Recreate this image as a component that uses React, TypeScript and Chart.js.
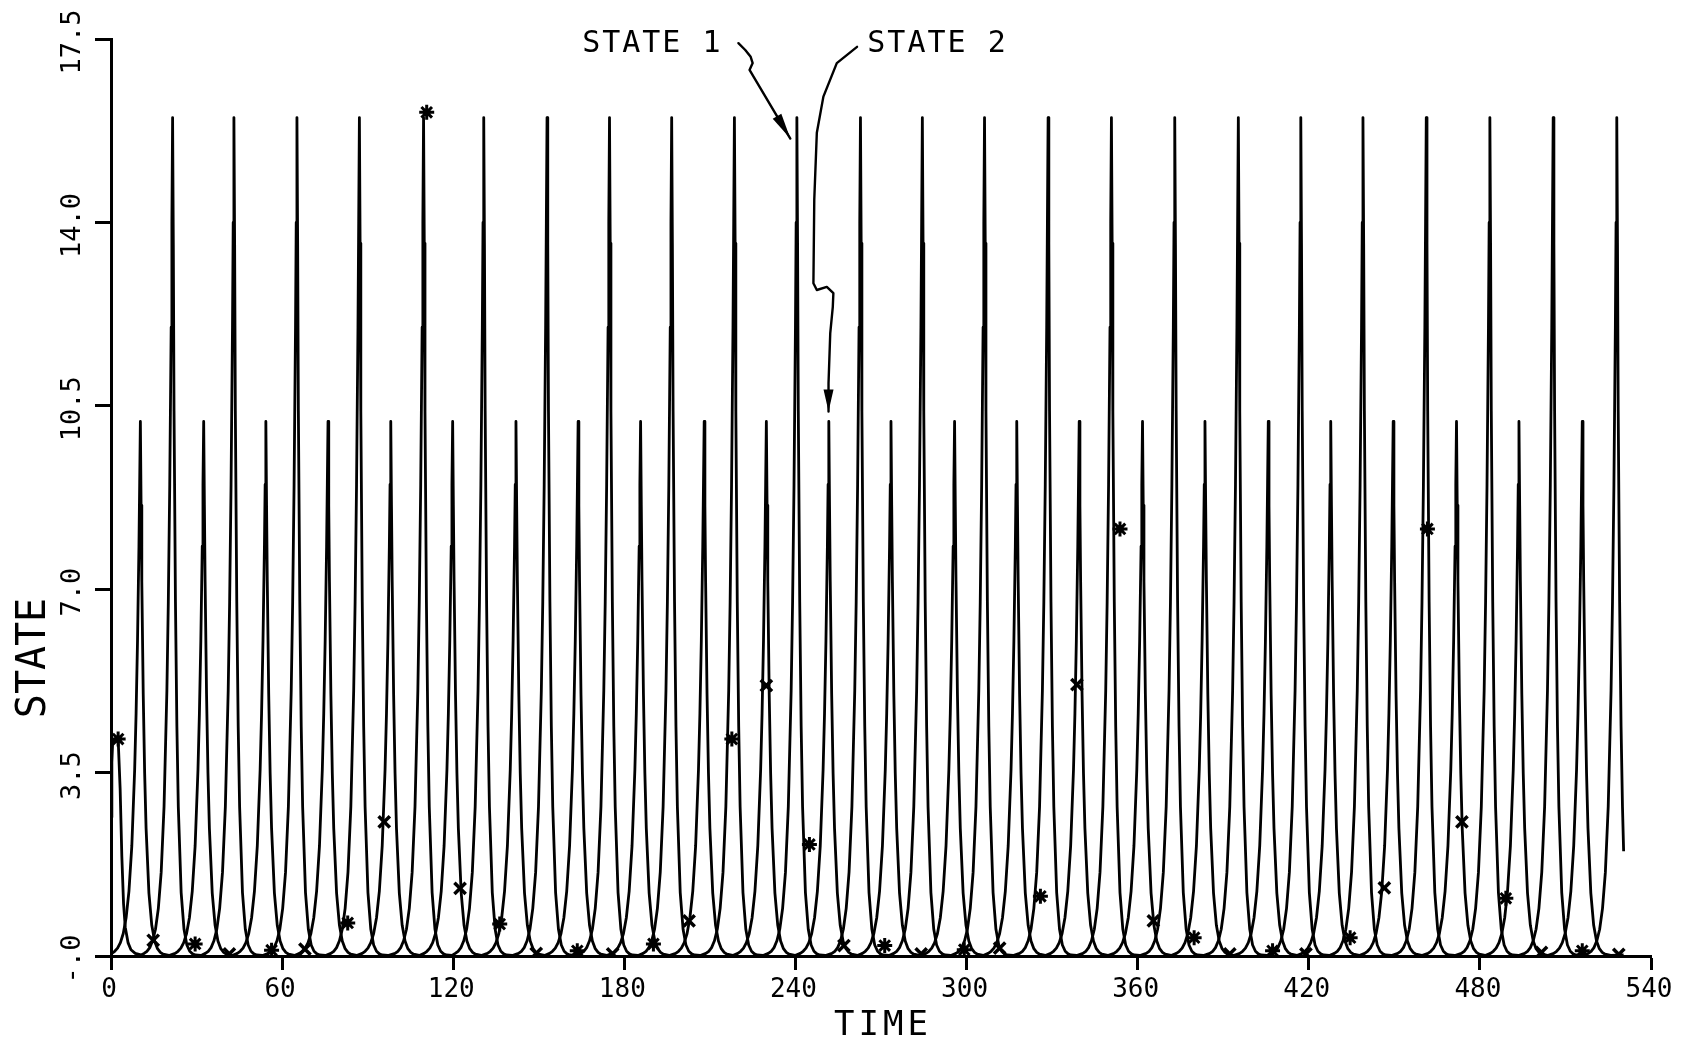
import React, { useEffect, useRef } from 'react';
import { Chart, registerables } from 'chart.js';

Chart.register(...registerables);

// ---- axis ticks ----
const X_TICKS = [0, 60, 120, 180, 240, 300, 360, 420, 480, 540];
const X_TICK_LABELS = ['0', '60', '120', '180', '240', '300', '360', '420', '480', '540'];
const Y_TICKS = [0, 3.5, 7, 10.5, 14, 17.5];
const Y_TICK_LABELS = ['-.0', '3.5', '7.0', '10.5', '14.0', '17.5'];

// ---- peak times ----
const STATE1_PEAK_TIMES = [21.6, 43.1, 65.2, 87.1, 109.6, 130.7, 152.9, 174.8, 196.6, 218.6, 240.5, 262.8,
  284.5, 306.3, 328.6, 350.8, 373.0, 395.3, 417.2, 439.0, 461.2, 483.5, 505.7, 528.0];
const STATE2_PEAK_TIMES = [10.3, 32.5, 54.3, 76.1, 98.1, 119.8, 142.0, 163.8, 185.7, 208.0, 229.8, 251.7,
  273.5, 295.8, 317.6, 339.5, 361.7, 383.6, 405.8, 427.7, 449.6, 471.8, 493.7, 515.9];

// ---- one spike (time offset from peak, value) ----
const STATE1_SHAPE_T = [-10, -9, -8, -7, -6, -5, -4, -3, -2, -1.5, -1, -0.5, -0.25, 0, 0.25, 0.5, 1, 1.5, 2, 3, 4, 5, 6, 7, 8, 10];
const STATE1_SHAPE_V = [0.05, 0.09, 0.16, 0.29, 0.51, 0.91, 1.6, 2.85, 5.07, 6.76, 9.0, 12.0, 14.0, 16.0, 13.6, 10.4, 6.76, 4.39, 2.85, 1.21, 0.51, 0.21, 0.09, 0.04, 0.02, 0.01];
const STATE2_SHAPE_T = [-10, -9, -8, -7, -6, -5, -4, -3, -2, -1.5, -1, -0.5, -0.25, 0, 0.25, 0.5, 1, 1.5, 2, 3, 4, 5, 6, 7, 8, 10];
const STATE2_SHAPE_V = [0.05, 0.09, 0.15, 0.255, 0.43, 0.73, 1.24, 2.1, 3.56, 4.63, 6.02, 7.82, 9.0, 10.2, 8.6, 7.15, 5.0, 3.49, 2.44, 1.2, 0.585, 0.287, 0.14, 0.069, 0.034, 0.01];

// ---- start / end of the run ----
const STATE1_START_T = [0, 0.3, 0.6, 2.5, 3.2, 3.8, 4.4, 5.0, 6.0, 7.0, 8.5, 10.5];
const STATE1_START_V = [2.65, 3.7, 4.1, 4.15, 3.2, 1.9, 1.0, 0.55, 0.25, 0.12, 0.05, 0.02];
const END_TIME = 530.4;
const STATE1_END_VALUE = 2.0;
const STATE2_END_VALUE = 0.02;

// ---- sample markers ----
const STAR_T = [2.5, 29.5, 56.3, 83.0, 110.7, 136.3, 163.5, 190.2, 217.7, 244.9, 271.3, 299.2, 325.9, 353.8, 379.8, 407.3, 434.5, 461.6, 489.1, 515.9];
const STAR_V = [4.14, 0.23, 0.11, 0.63, 16.1, 0.61, 0.1, 0.23, 4.14, 2.13, 0.2, 0.12, 1.14, 8.15, 0.35, 0.1, 0.35, 8.15, 1.1, 0.1];
const CROSS_T = [14.8, 41.5, 68.0, 95.8, 122.4, 149.1, 175.9, 202.7, 229.8, 257.0, 284.1, 311.6, 338.7, 365.5, 392.3, 419.0, 446.5, 473.7, 501.6, 528.7];
const CROSS_V = [0.3, 0.04, 0.13, 2.56, 1.29, 0.05, 0.04, 0.67, 5.16, 0.2, 0.04, 0.15, 5.18, 0.67, 0.04, 0.04, 1.3, 2.56, 0.07, 0.03];

// ---- annotation arrows (data coordinates: time, state) ----
const ARROW1_T = [220.0, 222.4, 224.3, 225.0, 223.9, 238.2];
const ARROW1_V = [17.42, 17.29, 17.16, 17.04, 16.91, 15.6];
const ARROW2_T = [261.6, 254.5, 249.8, 247.5, 246.6, 246.3, 247.5, 251.0, 253.3, 253.1, 252.2, 251.6, 251.6];
const ARROW2_V = [17.35, 17.04, 16.4, 15.71, 14.43, 12.84, 12.71, 12.77, 12.65, 12.39, 11.88, 10.93, 10.39];
const NOTE_TEXTS = ['STATE 1', 'STATE 2'];
const NOTE_T = [165.2, 265.2];
const NOTE_V = [17.25, 17.25];

type P = { x: number; y: number };

function buildSeries(startT: number[], startV: number[], peaks: number[], shapeT: number[], shapeV: number[], endT: number, endV: number): P[] {
  const pts: P[] = startT.map((t, i) => ({ x: t, y: startV[i] }));
  peaks.forEach((p) => {
    shapeT.forEach((d, i) => {
      const t = p + d;
      if (t < 0 || t >= endT) return;
      if (pts.length && t <= pts[pts.length - 1].x) return;
      pts.push({ x: t, y: shapeV[i] });
    });
  });
  pts.push({ x: endT, y: endV });
  return pts;
}

const MONO = '"DejaVu Sans Mono", "Liberation Mono", monospace';

const labelPlugin = {
  id: 'plotterLabels',
  afterDraw(chart: any) {
    const ctx: CanvasRenderingContext2D = chart.ctx;
    const xs = chart.scales.x;
    const ys = chart.scales.y;
    const area = chart.chartArea;
    ctx.save();
    ctx.fillStyle = '#000';
    ctx.strokeStyle = '#000';

    // x tick labels
    ctx.font = `26px ${MONO}`;
    ctx.textAlign = 'center';
    ctx.textBaseline = 'alphabetic';
    X_TICKS.forEach((v, i) => {
      ctx.fillText(X_TICK_LABELS[i], xs.getPixelForValue(v) - 2, area.bottom + 41);
    });

    // y tick labels (rotated)
    ctx.font = `27px ${MONO}`;
    Y_TICKS.forEach((v, i) => {
      ctx.save();
      ctx.translate(area.left - 31, ys.getPixelForValue(v) + 3);
      ctx.rotate(-Math.PI / 2);
      ctx.fillText(Y_TICK_LABELS[i], 0, 0);
      ctx.restore();
    });

    // axis titles
    ctx.font = `34px ${MONO}`;
    (ctx as any).letterSpacing = '4px';
    ctx.fillText('TIME', (area.left + area.right) / 2 + 2, area.bottom + 79);
    (ctx as any).letterSpacing = '0px';
    ctx.save();
    ctx.font = `40px ${MONO}`;
    ctx.translate(area.left - 66, area.bottom - 298);
    ctx.rotate(-Math.PI / 2);
    ctx.fillText('STATE', 0, 0);
    ctx.restore();

    // annotations
    ctx.font = `30px ${MONO}`;
    ctx.textAlign = 'left';
    (ctx as any).letterSpacing = '2px';
    NOTE_TEXTS.forEach((txt, i) => {
      ctx.fillText(txt, xs.getPixelForValue(NOTE_T[i]), ys.getPixelForValue(NOTE_V[i]));
    });
    (ctx as any).letterSpacing = '0px';

    const drawArrow = (ts: number[], vs: number[], headLen: number, headHalf: number) => {
      const px = ts.map((t) => xs.getPixelForValue(t));
      const py = vs.map((v) => ys.getPixelForValue(v));
      ctx.lineWidth = 2.4;
      ctx.lineJoin = 'round';
      ctx.lineCap = 'round';
      ctx.beginPath();
      ctx.moveTo(px[0], py[0]);
      for (let i = 1; i < px.length; i++) ctx.lineTo(px[i], py[i]);
      ctx.stroke();
      const n = px.length - 1;
      const dx = px[n] - px[n - 1];
      const dy = py[n] - py[n - 1];
      const len = Math.hypot(dx, dy) || 1;
      const ux = dx / len;
      const uy = dy / len;
      const bx = px[n] - ux * headLen;
      const by = py[n] - uy * headLen;
      ctx.beginPath();
      ctx.moveTo(px[n], py[n]);
      ctx.lineTo(bx - uy * headHalf, by + ux * headHalf);
      ctx.lineTo(bx + uy * headHalf, by - ux * headHalf);
      ctx.closePath();
      ctx.fill();
    };
    drawArrow(ARROW1_T, ARROW1_V, 26, 5);
    drawArrow(ARROW2_T, ARROW2_V, 22, 5);

    ctx.restore();
  },
};

export default function App() {
  const ref = useRef<HTMLCanvasElement>(null);

  useEffect(() => {
    if (!ref.current) return;
    const state1 = buildSeries(STATE1_START_T, STATE1_START_V, STATE1_PEAK_TIMES, STATE1_SHAPE_T, STATE1_SHAPE_V, END_TIME, STATE1_END_VALUE);
    const state2 = buildSeries([], [], STATE2_PEAK_TIMES, STATE2_SHAPE_T, STATE2_SHAPE_V, END_TIME, STATE2_END_VALUE);
    const stars = STAR_T.map((t, i) => ({ x: t, y: STAR_V[i] }));
    const crosses = CROSS_T.map((t, i) => ({ x: t, y: CROSS_V[i] }));

    const chart = new Chart(ref.current, {
      type: 'scatter',
      data: {
        datasets: [
          { label: 'STATE 1', data: state1, showLine: true, borderColor: '#000', borderWidth: 2.8, pointRadius: 0, tension: 0, fill: false, borderJoinStyle: 'round' },
          { label: 'STATE 2', data: state2, showLine: true, borderColor: '#000', borderWidth: 2.8, pointRadius: 0, tension: 0, fill: false, borderJoinStyle: 'round' },
          { label: 'STATE 1 samples', data: stars, showLine: false, pointStyle: 'star', pointRadius: 7.5, pointBorderWidth: 3, borderColor: '#000', backgroundColor: '#000' },
          { label: 'STATE 2 samples', data: crosses, showLine: false, pointStyle: 'crossRot', pointRadius: 8, pointBorderWidth: 3.5, borderColor: '#000', backgroundColor: '#000' },
        ] as any,
      },
      options: {
        responsive: false,
        animation: false,
        devicePixelRatio: 1,
        events: [],
        layout: { padding: { left: 0, right: 34, top: 39, bottom: 0 } },
        plugins: { legend: { display: false }, tooltip: { enabled: false } },
        scales: {
          x: {
            type: 'linear',
            min: 0,
            max: 540,
            afterBuildTicks: (s: any) => { s.ticks = X_TICKS.map((v) => ({ value: v })); },
            afterFit: (s: any) => { s.height = 91; },
            ticks: { display: false },
            grid: { display: true, drawOnChartArea: false, drawTicks: true, tickLength: 14, tickWidth: 3, tickColor: '#000' },
            border: { display: true, color: '#000', width: 3 },
          },
          y: {
            type: 'linear',
            min: 0,
            max: 17.5,
            afterBuildTicks: (s: any) => { s.ticks = Y_TICKS.map((v) => ({ value: v })); },
            afterFit: (s: any) => { s.width = 111; },
            ticks: { display: false },
            grid: { display: true, drawOnChartArea: false, drawTicks: true, tickLength: 16, tickWidth: 3, tickColor: '#000' },
            border: { display: true, color: '#000', width: 3 },
          },
        },
      } as any,
      plugins: [labelPlugin as any],
    });
    return () => chart.destroy();
  }, []);

  return (
    <div style={{ position: 'fixed', left: 0, top: 0, width: 1685, height: 1047, background: '#fff' }}>
      <canvas ref={ref} width={1685} height={1047} style={{ display: 'block' }} />
    </div>
  );
}
